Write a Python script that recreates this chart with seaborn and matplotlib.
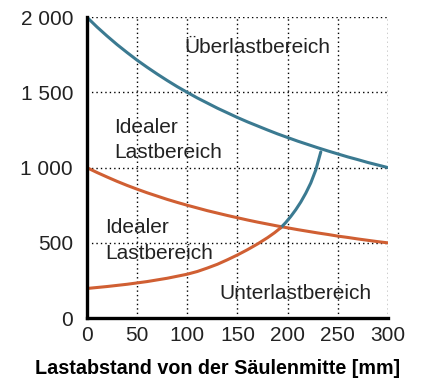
import matplotlib
matplotlib.use("Agg")
import matplotlib.pyplot as plt
import seaborn as sns
import pandas as pd

# Load distance from column centre [mm]
x_limits = [0, 10, 20, 30, 40, 50, 60, 70, 80, 90, 100, 110, 120, 130, 140, 150,
            160, 170, 180, 190, 200, 210, 220, 230, 240, 250, 260, 270, 280, 290, 300]
# Upper limit of the ideal load range
blue_upper = [2000, 1935, 1875, 1818, 1765, 1714, 1667, 1622, 1579, 1538, 1500,
              1463, 1429, 1395, 1364, 1333, 1304, 1277, 1250, 1224, 1200, 1176,
              1154, 1132, 1111, 1091, 1071, 1053, 1034, 1017, 1000]
# Lower limit of the ideal load range
orange_lower = [1000, 968, 938, 909, 882, 857, 833, 811, 789, 769, 750, 732, 714,
                698, 682, 667, 652, 638, 625, 612, 600, 588, 577, 566, 556, 545,
                536, 526, 517, 508, 500]

# Rising limit curve: orange part up to the crossing, blue part up to the upper curve
x_rise_orange = [0, 20, 40, 60, 80, 100, 110, 120, 130, 140, 150, 160, 170, 180, 187, 193]
rise_orange = [197, 210, 225, 243, 265, 292, 310, 333, 358, 388, 420, 455, 493, 535, 568, 600]
x_rise_blue = [193, 198, 203, 208, 213, 218, 223, 228, 233]
rise_blue = [600, 635, 675, 720, 771, 830, 898, 985, 1105]

x_ticks = [0, 50, 100, 150, 200, 250, 300]
y_ticks = [0, 500, 1000, 1500, 2000]
y_tick_labels = ["0", "500", "1 000", "1 500", "2 000"]

BLUE = "#3b7a91"
ORANGE = "#d05f33"
TEXT = "#222222"

sns.set_style("white")
plt.rcParams["font.family"] = ["Liberation Sans", "DejaVu Sans"]

fig = plt.figure(figsize=(4.26, 3.81), dpi=100)
ax = fig.add_axes([0.204, 0.165, 0.707, 0.79])

lw = 2.2
sns.lineplot(data=pd.DataFrame({"x": x_limits, "y": blue_upper}), x="x", y="y",
             ax=ax, color=BLUE, lw=lw, zorder=3)
sns.lineplot(data=pd.DataFrame({"x": x_limits, "y": orange_lower}), x="x", y="y",
             ax=ax, color=ORANGE, lw=lw, zorder=3)
sns.lineplot(data=pd.DataFrame({"x": x_rise_blue, "y": rise_blue}), x="x", y="y",
             ax=ax, color=BLUE, lw=lw, zorder=3)
sns.lineplot(data=pd.DataFrame({"x": x_rise_orange, "y": rise_orange}), x="x", y="y",
             ax=ax, color=ORANGE, lw=lw, zorder=4)

ax.set_xlim(0, 300)
ax.set_ylim(0, 2000)
ax.set_xticks(x_ticks)
ax.set_yticks(y_ticks)
ax.set_yticklabels(y_tick_labels)
ax.tick_params(axis="both", length=0, labelsize=15, colors=TEXT)
ax.tick_params(axis="y", pad=10)
ax.tick_params(axis="x", pad=6)
ax.grid(True, linestyle=(0, (1, 2.2)), color="black", lw=1.0)
for s in ("top", "right"):
    ax.spines[s].set_visible(False)
for s in ("left", "bottom"):
    ax.spines[s].set_color("black")
    ax.spines[s].set_linewidth(2.4)
    ax.spines[s].set_zorder(5)

ax.set_ylabel("")
ax.set_xlabel("Lastabstand von der Säulenmitte [mm]", fontsize=14.2,
              fontweight="bold", color="black")
ax.xaxis.set_label_coords(0.435, -0.136)

txt = dict(fontsize=15, color=TEXT, zorder=6, ha="left", va="baseline")
ax.text(97.5, 1759, "Überlastbereich", **txt)
ax.text(27, 1229, "Idealer", **txt)
ax.text(27, 1063, "Lastbereich", **txt)
ax.text(18.5, 563, "Idealer", **txt)
ax.text(18.5, 390, "Lastbereich", **txt)
ax.text(132, 124, "Unterlastbereich", **txt)

fig.savefig("out.png", dpi=100)
